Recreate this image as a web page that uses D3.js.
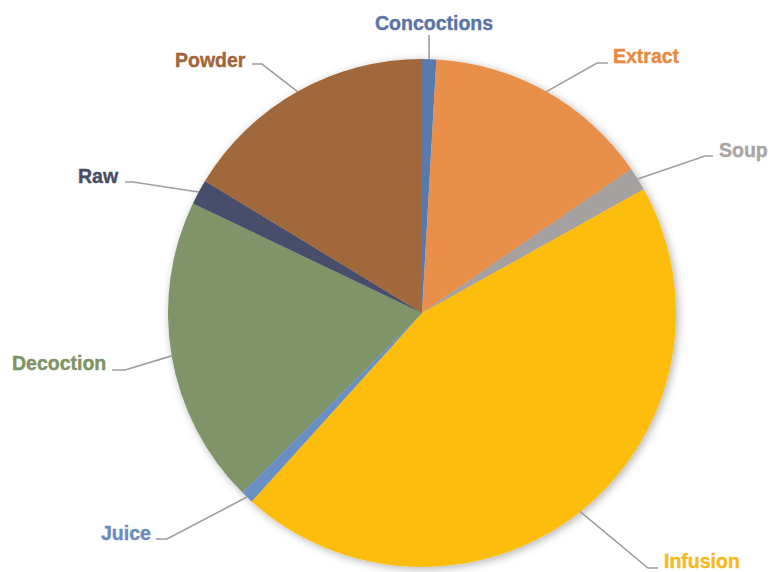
<!DOCTYPE html>
<html>
<head>
<meta charset="utf-8">
<script src="https://cdn.jsdelivr.net/npm/d3@7/dist/d3.min.js"></script>
<style>
  html, body { margin: 0; padding: 0; background: #ffffff; }
  svg { display: block; }
</style>
</head>
<body>
<svg id="chart" width="770" height="572"></svg>
<script>
// ---- data (percent share, clockwise from 12 o'clock) ----
const categories = ["Concoctions", "Extract", "Soup", "Infusion", "Juice", "Decoction", "Raw", "Powder"];
const values     = [0.9, 14.5, 1.5, 44.8, 0.8, 19.6, 1.6, 16.3];

// ---- styles ----
const sliceColors = ["#5a7aad", "#e8904a", "#a6a1a1", "#fcbd0f", "#6a8fc2", "#7f9467", "#464d6b", "#a0673a"];
const labelColors = ["#5a74a6", "#e78a3f", "#a9a5a5", "#f7b91c", "#6a8bbc", "#7e9266", "#474d68", "#a0663a"];

// label layout: text anchor point (left, baseline) and leader elbow/end
const labelLayout = [
  { tx: 375, ty: 30,  pts: [[429, 35]] },
  { tx: 613, ty: 63,  pts: [[597, 63], [608, 63]] },
  { tx: 719, ty: 157, pts: [[705, 156], [713, 156]] },
  { tx: 664, ty: 568, pts: [[648, 568], [658, 568]] },
  { tx: 101, ty: 540, pts: [[167, 539], [156, 539]] },
  { tx: 12,  ty: 370, pts: [[125, 370], [112, 370]] },
  { tx: 78,  ty: 183, pts: [[133, 182], [125, 182]] },
  { tx: 175, ty: 67,  pts: [[262, 64], [252, 64]] }
];

const cx = 422, cy = 313, R = 254;

const svg = d3.select("#chart");
const defs = svg.append("defs");
const f = defs.append("filter").attr("id", "shadow")
  .attr("x", "-20%").attr("y", "-20%").attr("width", "140%").attr("height", "140%");
f.append("feDropShadow").attr("dx", 2).attr("dy", 2).attr("stdDeviation", 4)
  .attr("flood-color", "#000").attr("flood-opacity", 0.3);

const data = categories.map((c, i) => ({ name: c, value: values[i], i }));
const pie = d3.pie().value(d => d.value).sort(null);
const arcs = pie(data);
const arc = d3.arc().innerRadius(0).outerRadius(R);

const g = svg.append("g").attr("transform", `translate(${cx},${cy})`);
const pg = g.append("g").attr("filter", "url(#shadow)");
pg.selectAll("path").data(arcs).join("path")
  .attr("d", arc)
  .attr("fill", d => sliceColors[d.data.i]);

// leader lines and labels
const line = d3.line();
arcs.forEach(a => {
  const m = (a.startAngle + a.endAngle) / 2;
  const start = [cx + R * Math.sin(m), cy - R * Math.cos(m)];
  const lay = labelLayout[a.data.i];
  svg.append("path")
    .attr("d", line([start, ...lay.pts]))
    .attr("fill", "none")
    .attr("stroke", "#9e9e9e")
    .attr("stroke-width", 1.6);
  svg.append("text")
    .attr("x", lay.tx).attr("y", lay.ty)
    .attr("font-family", "'Liberation Sans', Arial, sans-serif")
    .attr("font-weight", "bold")
    .attr("font-size", "19.5px")
    .attr("stroke", labelColors[a.data.i])
    .attr("stroke-width", 0.4)
    .attr("fill", labelColors[a.data.i])
    .text(a.data.name);
});
</script>
</body>
</html>
